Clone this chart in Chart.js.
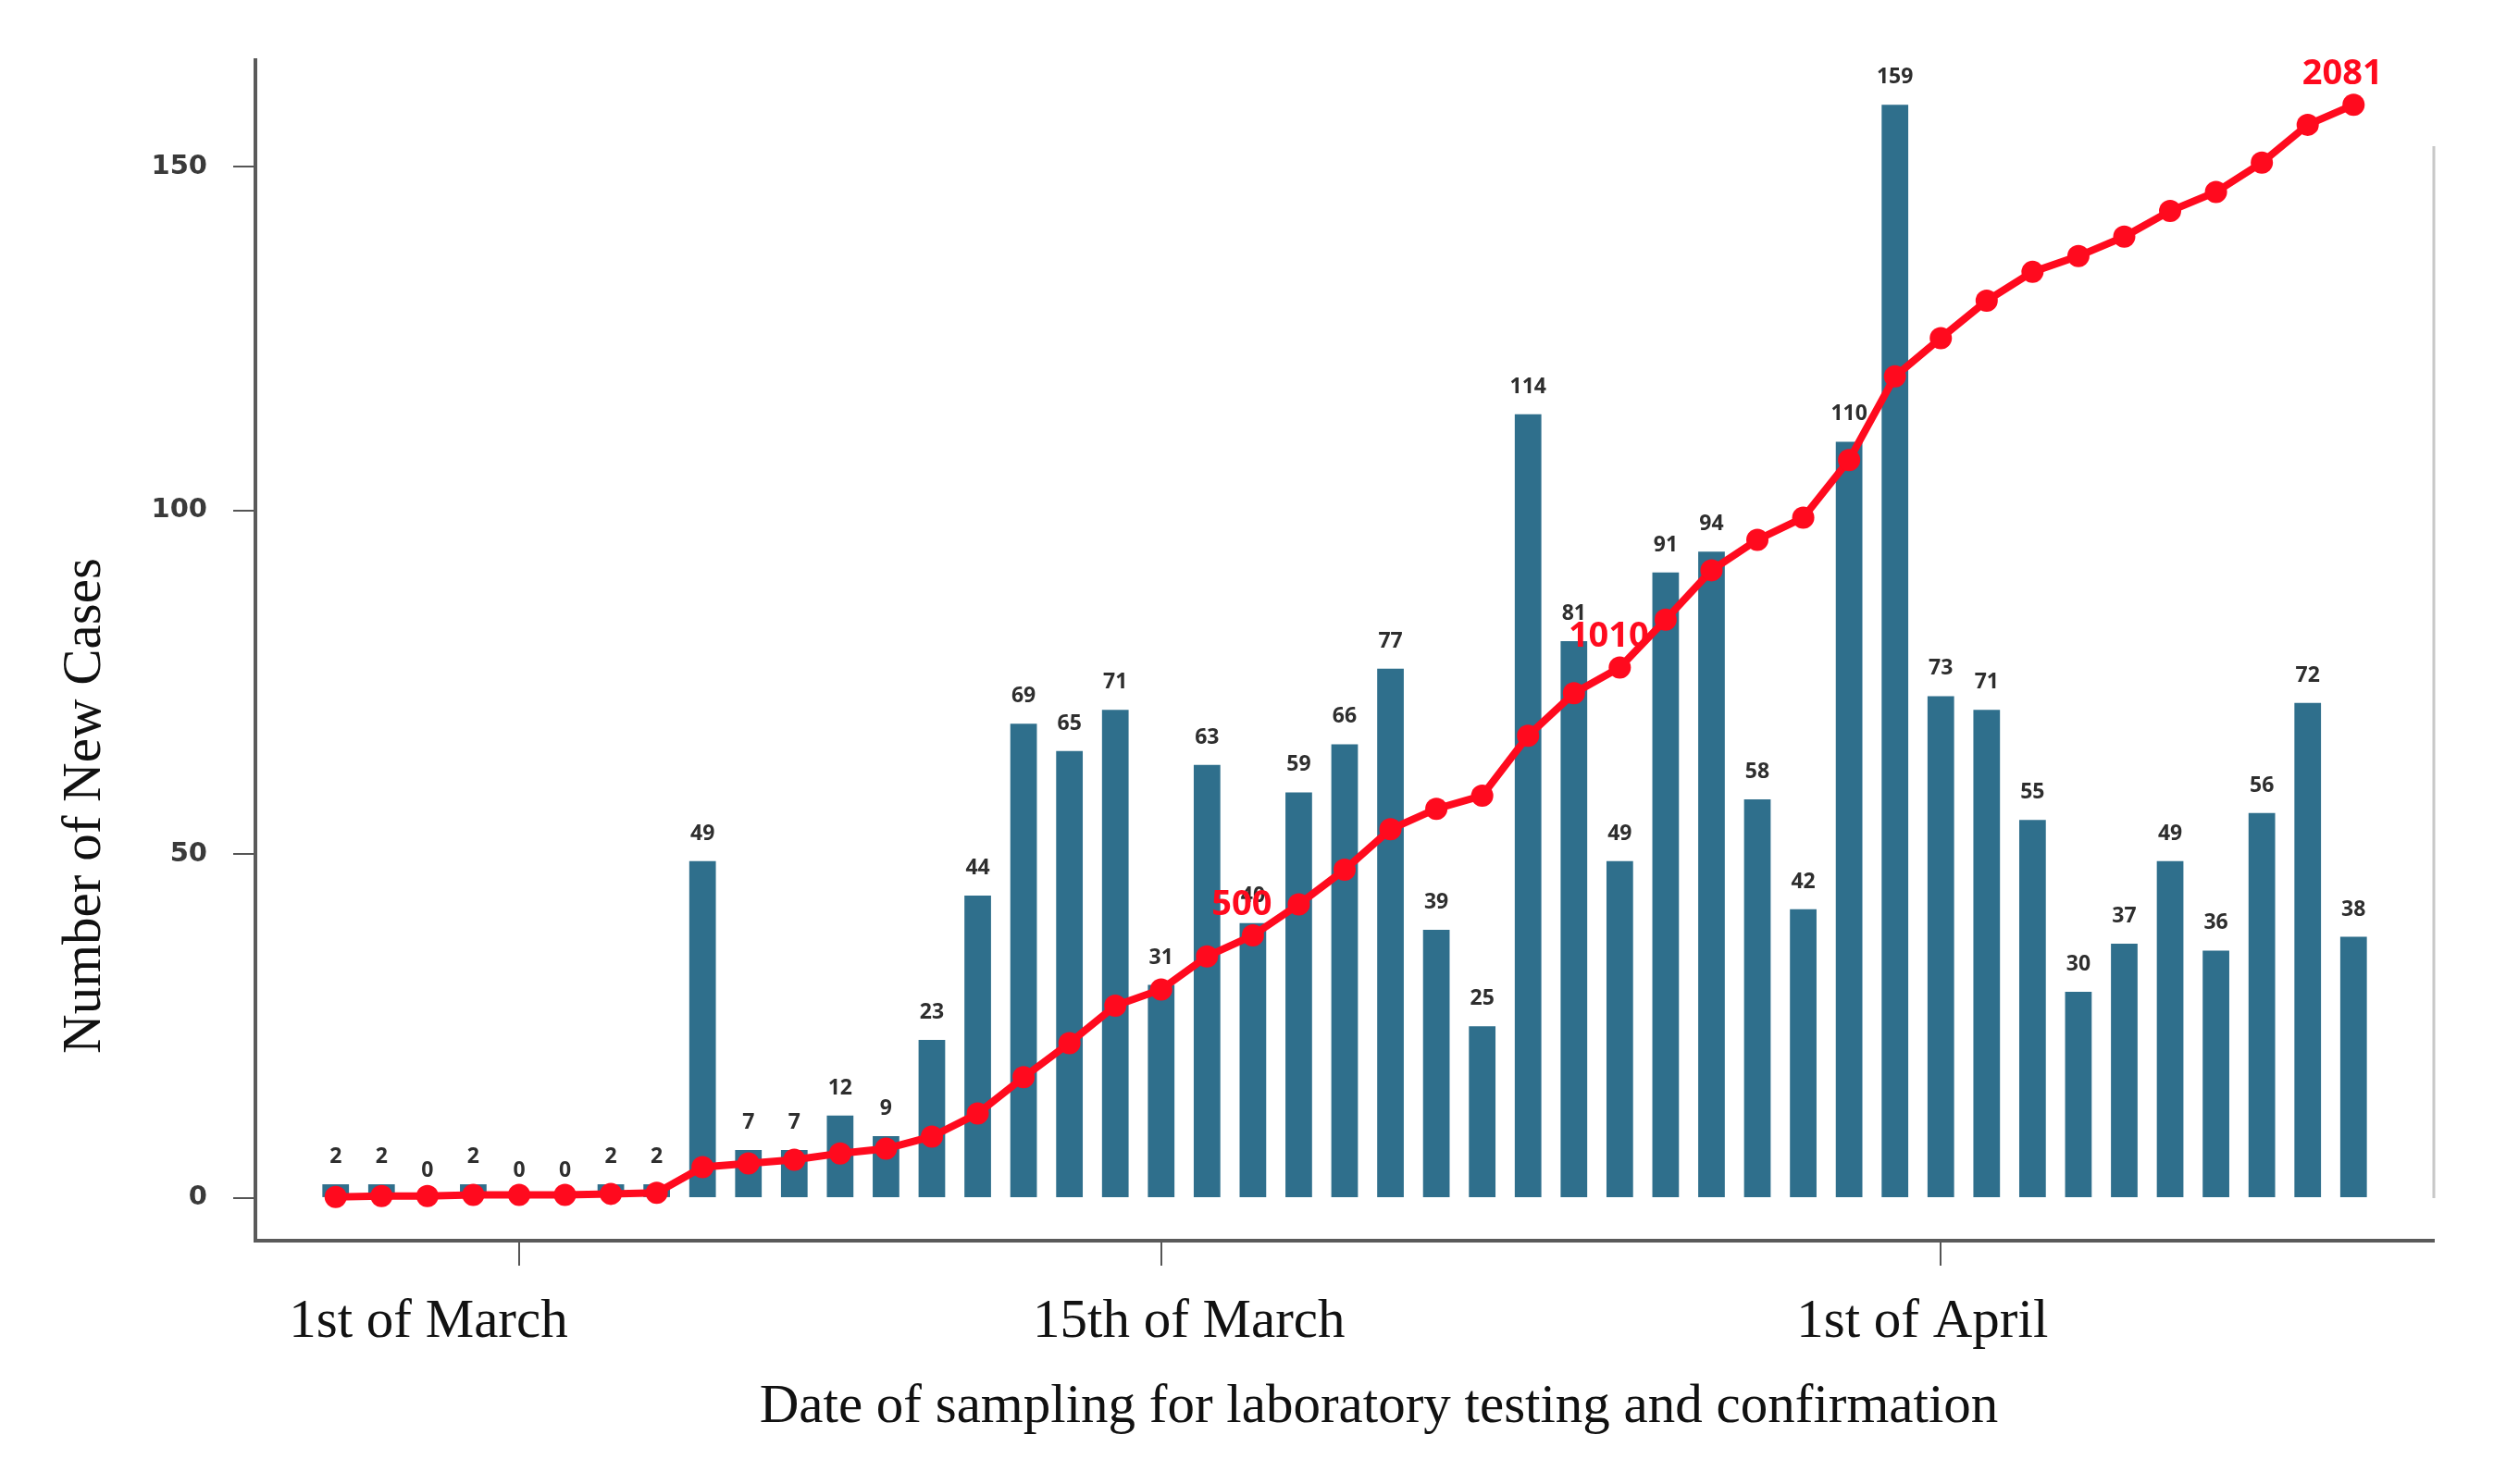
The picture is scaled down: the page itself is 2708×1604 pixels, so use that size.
<!DOCTYPE html>
<html>
<head>
<meta charset="utf-8">
<script src="https://cdn.jsdelivr.net/npm/chart.js@4.4.1/dist/chart.umd.min.js"></script>
<style>
  html, body { margin: 0; padding: 0; background: #fff; }
  #chart { display: block; }
</style>
</head>
<body>
<canvas id="chart" width="2708" height="1604" style="width:2708px;height:1604px"></canvas>
<script>
// ---- data ----
const dates = [
  'Feb 26', 'Feb 27', 'Feb 28', 'Feb 29',
  'Mar 1', 'Mar 2', 'Mar 3', 'Mar 4', 'Mar 5', 'Mar 6', 'Mar 7', 'Mar 8', 'Mar 9', 'Mar 10',
  'Mar 11', 'Mar 12', 'Mar 13', 'Mar 14', 'Mar 15', 'Mar 16', 'Mar 17', 'Mar 18', 'Mar 19', 'Mar 20',
  'Mar 21', 'Mar 22', 'Mar 23', 'Mar 24', 'Mar 25', 'Mar 26', 'Mar 27', 'Mar 28', 'Mar 29', 'Mar 30', 'Mar 31',
  'Apr 1', 'Apr 2', 'Apr 3', 'Apr 4', 'Apr 5', 'Apr 6', 'Apr 7', 'Apr 8', 'Apr 9', 'Apr 10',
];
const newCases = [
  2, 2, 0, 2, 0, 0, 2, 2, 49, 7, 7, 12, 9, 23, 44, 69, 65, 71, 31, 63, 40, 59, 66,
  77, 39, 25, 114, 81, 49, 91, 94, 58, 42, 110, 159, 73, 71, 55, 30, 37, 49, 36, 56, 72, 38,
];
const cumulativeCases = [
  2, 4, 4, 6, 6, 6, 8, 10, 59, 66, 73, 85, 94, 117, 161, 230, 295, 366, 397, 460, 500, 559, 625,
  702, 741, 766, 880, 961, 1010, 1101, 1195, 1253, 1295, 1405, 1564, 1637, 1708, 1763, 1793, 1830, 1879, 1915, 1971, 2043, 2081,
];
const cumulativeLabelIdx = [20, 28, 44];
const yTicks = [0, 50, 100, 150];
const xTickIdx = [4, 18, 35];
const xTickLabels = ['1st of March', '15th of March', '1st of April'];

// ---- style ----
const BAR = '#2f6f8c';
const RED = '#ff0a1e';
const AXIS = '#5a5a5a';
const SERIF = '"Liberation Serif", "Times New Roman", serif';
const xLabelShift = [-98, 30, -20];

const Y_MIN = -6.2;
const Y_MAX = 165.5;
// cumulative line shares the zero line; its top point sits level with the tallest bar
const CUM_RATIO = 2081 / 159;

const overlay = {
  id: 'overlay',
  afterDraw(chart) {
    const { ctx, chartArea, scales: { x, y } } = chart;
    ctx.save();

    // faint right frame line
    ctx.strokeStyle = '#c8c8c8';
    ctx.lineWidth = 3;
    ctx.beginPath();
    ctx.moveTo(chartArea.right, y.getPixelForValue(153));
    ctx.lineTo(chartArea.right, y.getPixelForValue(0));
    ctx.stroke();

    // bar value labels
    const bars = chart.getDatasetMeta(1).data;
    ctx.font = 'bold 23px "Open Sans"';
    ctx.fillStyle = '#2e2e2e';
    ctx.textAlign = 'center';
    ctx.textBaseline = 'alphabetic';
    bars.forEach((bar, i) => ctx.fillText(String(newCases[i]), bar.x, bar.y - 23));

    // cumulative labels
    const pts = chart.getDatasetMeta(0).data;
    ctx.font = 'bold 38px "Open Sans"';
    ctx.fillStyle = RED;
    cumulativeLabelIdx.forEach(i => {
      const p = pts[i];
      ctx.fillText(String(cumulativeCases[i]), p.x - 12, p.y - 22);
    });

    // date labels under the tick marks
    ctx.font = '59px ' + SERIF;
    ctx.fillStyle = '#111';
    xTickIdx.forEach((v, i) => {
      ctx.fillText(xTickLabels[i], x.getPixelForValue(v) + xLabelShift[i], 1445);
    });

    // axis titles
    ctx.fillText('Date of sampling for laboratory testing and confirmation', 1490, 1537);
    ctx.translate(108, 871);
    ctx.rotate(-Math.PI / 2);
    ctx.fillText('Number of New Cases', 0, 0);

    ctx.restore();
  },
};

new Chart(document.getElementById('chart'), {
  type: 'bar',
  data: {
    datasets: [
      {
        type: 'line',
        label: 'Cumulative cases',
        data: cumulativeCases.map((v, i) => ({ x: i, y: v })),
        yAxisID: 'y2',
        borderColor: RED,
        borderWidth: 8,
        backgroundColor: RED,
        pointBackgroundColor: RED,
        pointBorderWidth: 0,
        pointRadius: 12,
        tension: 0,
        order: 0,
      },
      {
        type: 'bar',
        label: 'New cases',
        data: newCases.map((v, i) => ({ x: i, y: v })),
        yAxisID: 'y',
        backgroundColor: BAR,
        barPercentage: 0.58,
        categoryPercentage: 1,
        order: 1,
      },
    ],
  },
  options: {
    responsive: false,
    animation: false,
    devicePixelRatio: 1,
    layout: { padding: { top: 65, right: 78, left: 0, bottom: 0 } },
    plugins: { legend: { display: false }, tooltip: { enabled: false } },
    scales: {
      x: {
        type: 'linear',
        offset: false,
        min: -1.75,
        max: dates.length - 1 + 1.75,
        afterBuildTicks: (scale) => { scale.ticks = xTickIdx.map(v => ({ value: v })); },
        afterFit: (scale) => { scale.height = 263; },
        ticks: { display: false },
        grid: { offset: false, drawOnChartArea: false, drawTicks: true, tickLength: 27, color: '#555', lineWidth: 2 },
        border: { color: AXIS, width: 4 },
      },
      y: {
        min: Y_MIN,
        max: Y_MAX,
        afterBuildTicks: (scale) => { scale.ticks = yTicks.map(v => ({ value: v })); },
        afterFit: (scale) => { scale.width = 276; },
        ticks: {
          padding: 28,
          color: '#3a3a3a',
          font: { family: '"DejaVu Sans"', size: 29, weight: 'bold' },
        },
        grid: { drawOnChartArea: false, drawTicks: true, tickLength: 24, color: '#555', lineWidth: 2 },
        border: { color: AXIS, width: 4 },
      },
      y2: {
        display: false,
        min: Y_MIN * CUM_RATIO,
        max: Y_MAX * CUM_RATIO,
      },
    },
  },
  plugins: [overlay],
});
</script>
</body>
</html>
